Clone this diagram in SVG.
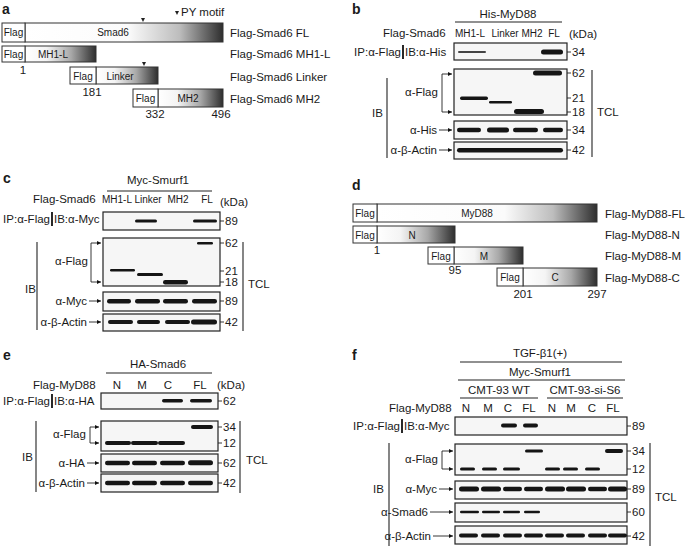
<svg xmlns="http://www.w3.org/2000/svg" width="685" height="546" viewBox="0 0 685 546">
<style>
text{font-family:"Liberation Sans",Arial,sans-serif;fill:#1a1a1a}
.pl{font-size:14px;font-weight:bold}
.lb{font-size:11.5px}
.sm{font-size:10px}
.ln{font-size:10px;text-anchor:middle}
.lnb{font-size:11.5px;text-anchor:middle}
.mid{text-anchor:middle}
.end{text-anchor:end}
.bar{stroke:#333;stroke-width:1}
.flag{fill:#fff}
.box{stroke:#222;stroke-width:1.2;fill:#f6f6f6}
.band{fill:#151515}
.ln1{stroke:#222;stroke-width:1.1;fill:none}
.vb{stroke:#111;stroke-width:1.8}
.arr{stroke:#222;stroke-width:0.9;fill:none;marker-end:url(#ah)}
.tick{stroke:#222;stroke-width:0.9}
</style>
<defs>
<marker id="ah" viewBox="0 0 6 6" refX="6" refY="3" markerUnits="userSpaceOnUse" markerWidth="5" markerHeight="4" orient="auto"><path d="M0,0 L6,3 L0,6 z" fill="#111"/></marker>
<linearGradient id="gFL" x1="0" x2="1" y1="0" y2="0"><stop offset="0" stop-color="#fff"/><stop offset="0.52" stop-color="#fbfbfb"/><stop offset="0.78" stop-color="#bdbdbd"/><stop offset="1" stop-color="#2e2e2e"/></linearGradient>
<linearGradient id="gSh" x1="0" x2="1" y1="0" y2="0"><stop offset="0" stop-color="#fff"/><stop offset="0.3" stop-color="#f4f4f4"/><stop offset="0.65" stop-color="#a8a8a8"/><stop offset="1" stop-color="#2e2e2e"/></linearGradient>
<linearGradient id="gMy" x1="0" x2="1" y1="0" y2="0"><stop offset="0" stop-color="#fff"/><stop offset="0.58" stop-color="#fbfbfb"/><stop offset="0.8" stop-color="#bdbdbd"/><stop offset="1" stop-color="#2e2e2e"/></linearGradient>
</defs>

<!-- Panel a -->
<g id="panel-a">
<text class="pl" x="2" y="14">a</text>
<path d="M175,11 L179,11 L177,15 z" fill="#222"/>
<text class="lb" x="181" y="16">PY motif</text>
<g id="a-FL">
<rect class="bar" x="25" y="23" width="198" height="19" fill="url(#gFL)"/>
<rect class="bar flag" x="2" y="23" width="23" height="19"/>
<text class="sm mid" x="13.5" y="36">Flag</text>
<text class="sm mid" x="113" y="36">Smad6</text>
<path d="M141,18 L145,18 L143,22 z" fill="#222"/>
<text class="lb" x="230" y="37">Flag-Smad6 FL</text>
</g>
<g id="a-MH1L">
<rect class="bar" x="25" y="46" width="71" height="16" fill="url(#gSh)"/>
<rect class="bar flag" x="2" y="46" width="23" height="16"/>
<text class="sm mid" x="13.5" y="58">Flag</text>
<text class="sm mid" x="53" y="58">MH1-L</text>
<text class="lb" x="230" y="58">Flag-Smad6 MH1-L</text>
<text class="lb mid" x="23" y="74">1</text>
</g>
<g id="a-Linker">
<rect class="bar" x="96" y="67" width="62" height="17" fill="url(#gSh)"/>
<rect class="bar flag" x="70" y="67" width="26" height="17"/>
<text class="sm mid" x="83" y="80">Flag</text>
<text class="sm mid" x="120" y="80">Linker</text>
<path d="M142,62 L146,62 L144,66 z" fill="#222"/>
<text class="lb" x="230" y="81">Flag-Smad6 Linker</text>
<text class="lb mid" x="92" y="96">181</text>
</g>
<g id="a-MH2">
<rect class="bar" x="158" y="89" width="65" height="18" fill="url(#gSh)"/>
<rect class="bar flag" x="133" y="89" width="25" height="18"/>
<text class="sm mid" x="145.5" y="102">Flag</text>
<text class="sm mid" x="188" y="102">MH2</text>
<text class="lb" x="230" y="103">Flag-Smad6 MH2</text>
<text class="lb mid" x="155" y="118">332</text>
<text class="lb mid" x="221" y="118">496</text>
</g>
</g>

<!-- Panel b -->
<g id="panel-b">
<text class="pl" x="352" y="14">b</text>
<text class="lb mid" x="508" y="18">His-MyD88</text>
<line class="ln1" x1="455" y1="22" x2="562" y2="22"/>
<text class="lb" x="383" y="37">Flag-Smad6</text>
<text class="ln" x="470" y="37">MH1-L</text>
<text class="ln" x="505" y="37">Linker</text>
<text class="ln" x="532" y="37">MH2</text>
<text class="ln" x="554" y="37">FL</text>
<text class="lb" x="569" y="38">(kDa)</text>
<text class="lb end" x="401" y="56">IP:α-Flag</text>
<line class="vb" x1="403" y1="45" x2="403" y2="59"/>
<text class="lb" x="405" y="56">IB:α-His</text>
<g id="b-ip">
<rect class="box" x="454" y="43" width="113" height="17"/>
<rect x="458" y="51" width="28" height="2" rx="1" fill="#444"/>
<rect class="band" x="541" y="49.5" width="22" height="5" rx="2.5"/>
<line class="tick" x1="567" y1="52" x2="571" y2="52"/><text class="lb" x="572" y="56">34</text>
</g>
<text class="lb" x="372" y="117">IB</text>
<line class="ln1" x1="387" y1="78" x2="387" y2="158"/>
<text class="lb" x="597" y="116">TCL</text>
<line class="ln1" x1="592" y1="70" x2="592" y2="157"/>
<g id="b-flag">
<rect class="box" x="454" y="69" width="113" height="46"/>
<rect class="band" x="533" y="70.5" width="29" height="5" rx="2.5"/>
<rect class="band" x="460" y="96.5" width="28" height="3.5" rx="1.7"/>
<rect class="band" x="489" y="101" width="23" height="2.5" rx="1.2"/>
<rect class="band" x="514" y="109" width="30" height="5" rx="2.5"/>
<line class="tick" x1="567" y1="73" x2="571" y2="73"/><text class="lb" x="572" y="77">62</text>
<line class="tick" x1="567" y1="98" x2="571" y2="98"/><text class="lb" x="572" y="102">21</text>
<line class="tick" x1="567" y1="112" x2="571" y2="112"/><text class="lb" x="572" y="116">18</text>
<text class="lb" x="405" y="96">α-Flag</text>
</g>
<g id="b-his">
<rect class="box" x="454" y="121" width="113" height="18"/>
<rect class="band" x="457" y="127.8" width="24" height="4.5" rx="2.2"/>
<rect class="band" x="487" y="127.5" width="22" height="5" rx="2.5"/>
<rect class="band" x="513" y="127.8" width="25" height="4.5" rx="2.2"/>
<rect class="band" x="543" y="127.8" width="20" height="4.5" rx="2.2"/>
<line class="tick" x1="567" y1="130" x2="571" y2="130"/><text class="lb" x="572" y="134">34</text>
<text class="lb end" x="437" y="134">α-His</text>
</g>
<g id="b-actin">
<rect class="box" x="454" y="142" width="113" height="17"/>
<rect class="band" x="457" y="148" width="106" height="4.5" rx="2.2"/>
<line class="tick" x1="567" y1="150" x2="571" y2="150"/><text class="lb" x="572" y="154">42</text>
<text class="lb end" x="437" y="154">α-β-Actin</text>
</g>
</g>

<!-- Panel c -->
<g id="panel-c">
<text class="pl" x="3" y="183">c</text>
<text class="lb mid" x="158" y="184">Myc-Smurf1</text>
<line class="ln1" x1="107" y1="191" x2="212" y2="191"/>
<text class="lb" x="33" y="203">Flag-Smad6</text>
<text class="ln" x="117" y="203">MH1-L</text>
<text class="ln" x="148" y="203">Linker</text>
<text class="ln" x="178" y="203">MH2</text>
<text class="ln" x="207" y="203">FL</text>
<text class="lb" x="220" y="206">(kDa)</text>
<text class="lb end" x="50" y="223">IP:α-Flag</text>
<line class="vb" x1="52" y1="212" x2="52" y2="226"/>
<text class="lb" x="54" y="223">IB:α-Myc</text>
<g id="c-ip">
<rect class="box" x="103" y="212" width="117" height="18"/>
<rect class="band" x="135" y="219.5" width="22" height="3" rx="1.5"/>
<rect class="band" x="193" y="219.5" width="24" height="3" rx="1.5"/>
<line class="tick" x1="220" y1="221" x2="224" y2="221"/><text class="lb" x="225" y="225">89</text>
</g>
<text class="lb" x="25" y="293">IB</text>
<line class="ln1" x1="37" y1="242" x2="37" y2="330"/>
<text class="lb" x="248" y="288">TCL</text>
<line class="ln1" x1="243" y1="242" x2="243" y2="331"/>
<g id="c-flag">
<rect class="box" x="103" y="238" width="117" height="48"/>
<rect class="band" x="197" y="242" width="16" height="2.5" rx="1.2"/>
<rect class="band" x="110" y="269" width="25" height="2.5" rx="1.2"/>
<rect class="band" x="137" y="273" width="26" height="3" rx="1.5"/>
<rect class="band" x="163" y="280" width="25" height="4.5" rx="2.2"/>
<line class="tick" x1="220" y1="243" x2="224" y2="243"/><text class="lb" x="225" y="247">62</text>
<line class="tick" x1="220" y1="271" x2="224" y2="271"/><text class="lb" x="225" y="275">21</text>
<line class="tick" x1="220" y1="282" x2="224" y2="282"/><text class="lb" x="225" y="286">18</text>
<text class="lb" x="55" y="265">α-Flag</text>
</g>
<g id="c-myc">
<rect class="box" x="103" y="292" width="117" height="19"/>
<rect class="band" x="107" y="299" width="24" height="4.5" rx="2.2"/>
<rect class="band" x="135" y="299" width="25" height="4.5" rx="2.2"/>
<rect class="band" x="163" y="299" width="25" height="4.5" rx="2.2"/>
<rect class="band" x="192" y="299" width="25" height="4.5" rx="2.2"/>
<line class="tick" x1="220" y1="301" x2="224" y2="301"/><text class="lb" x="225" y="305">89</text>
<text class="lb end" x="87" y="305">α-Myc</text>
</g>
<g id="c-actin">
<rect class="box" x="103" y="314" width="117" height="17"/>
<rect class="band" x="108" y="320" width="25" height="4" rx="2"/>
<rect class="band" x="137" y="320" width="23" height="4" rx="2"/>
<rect class="band" x="165" y="320" width="25" height="4" rx="2"/>
<rect class="band" x="191" y="319.5" width="26" height="5" rx="2.5"/>
<line class="tick" x1="220" y1="322" x2="224" y2="322"/><text class="lb" x="225" y="326">42</text>
<text class="lb end" x="87" y="326">α-β-Actin</text>
</g>
</g>

<!-- Panel d -->
<g id="panel-d">
<text class="pl" x="352" y="190">d</text>
<g id="d-FL">
<rect class="bar" x="377" y="204" width="220" height="18" fill="url(#gMy)"/>
<rect class="bar flag" x="353" y="204" width="24" height="18"/>
<text class="sm mid" x="365" y="217">Flag</text>
<text class="sm mid" x="477" y="217">MyD88</text>
<text class="lb" x="605" y="218">Flag-MyD88-FL</text>
</g>
<g id="d-N">
<rect class="bar" x="377" y="226" width="78" height="17" fill="url(#gSh)"/>
<rect class="bar flag" x="353" y="226" width="24" height="17"/>
<text class="sm mid" x="365" y="239">Flag</text>
<text class="sm mid" x="412" y="239">N</text>
<text class="lb" x="605" y="239">Flag-MyD88-N</text>
<text class="lb mid" x="377" y="254">1</text>
</g>
<g id="d-M">
<rect class="bar" x="454" y="247" width="69" height="17" fill="url(#gSh)"/>
<rect class="bar flag" x="428" y="247" width="26" height="17"/>
<text class="sm mid" x="441" y="260">Flag</text>
<text class="sm mid" x="484" y="260">M</text>
<text class="lb" x="605" y="260">Flag-MyD88-M</text>
<text class="lb mid" x="455" y="274">95</text>
</g>
<g id="d-C">
<rect class="bar" x="523" y="268" width="74" height="18" fill="url(#gSh)"/>
<rect class="bar flag" x="497" y="268" width="26" height="18"/>
<text class="sm mid" x="510" y="281">Flag</text>
<text class="sm mid" x="555" y="281">C</text>
<text class="lb" x="605" y="282">Flag-MyD88-C</text>
<text class="lb mid" x="523" y="298">201</text>
<text class="lb mid" x="597" y="298">297</text>
</g>
</g>

<!-- Panel e -->
<g id="panel-e">
<text class="pl" x="3" y="360">e</text>
<text class="lb mid" x="158" y="368">HA-Smad6</text>
<line class="ln1" x1="106" y1="373" x2="212" y2="373"/>
<text class="lb" x="33" y="389">Flag-MyD88</text>
<text class="lnb" x="117" y="389">N</text>
<text class="lnb" x="142" y="389">M</text>
<text class="lnb" x="168" y="389">C</text>
<text class="lnb" x="200" y="389">FL</text>
<text class="lb" x="217" y="389">(kDa)</text>
<text class="lb end" x="50" y="405">IP:α-Flag</text>
<line class="vb" x1="52" y1="394" x2="52" y2="408"/>
<text class="lb" x="54" y="405">IB:α-HA</text>
<g id="e-ip">
<rect class="box" x="101" y="393" width="117" height="16"/>
<rect class="band" x="162" y="399" width="21" height="3.5" rx="1.7"/>
<rect class="band" x="190" y="399" width="22" height="3.5" rx="1.7"/>
<line class="tick" x1="218" y1="401" x2="222" y2="401"/><text class="lb" x="223" y="405">62</text>
</g>
<text class="lb" x="22" y="461">IB</text>
<line class="ln1" x1="36" y1="421" x2="36" y2="492"/>
<text class="lb" x="246" y="464">TCL</text>
<line class="ln1" x1="240" y1="421" x2="240" y2="493"/>
<g id="e-flag">
<rect class="box" x="101" y="421" width="117" height="30"/>
<rect class="band" x="191" y="425" width="22" height="4" rx="2"/>
<rect class="band" x="105" y="441" width="26" height="4" rx="2"/>
<rect class="band" x="131" y="441" width="27" height="4" rx="2"/>
<rect class="band" x="158" y="441" width="27" height="4" rx="2"/>
<line class="tick" x1="218" y1="427" x2="222" y2="427"/><text class="lb" x="223" y="431">34</text>
<line class="tick" x1="218" y1="443" x2="222" y2="443"/><text class="lb" x="223" y="447">12</text>
<text class="lb" x="53" y="438">α-Flag</text>
</g>
<g id="e-ha">
<rect class="box" x="101" y="454" width="117" height="18"/>
<rect class="band" x="105" y="460.8" width="25" height="4.5" rx="2.2"/>
<rect class="band" x="132" y="460.8" width="25" height="4.5" rx="2.2"/>
<rect class="band" x="160" y="460.8" width="25" height="4.5" rx="2.2"/>
<rect class="band" x="188" y="460.3" width="25" height="5" rx="2.5"/>
<line class="tick" x1="218" y1="463" x2="222" y2="463"/><text class="lb" x="223" y="467">62</text>
<text class="lb end" x="85" y="467">α-HA</text>
</g>
<g id="e-actin">
<rect class="box" x="101" y="474" width="117" height="18"/>
<rect class="band" x="105" y="480.8" width="25" height="4.5" rx="2.2"/>
<rect class="band" x="132" y="480.8" width="25" height="4.5" rx="2.2"/>
<rect class="band" x="160" y="480.8" width="25" height="4.5" rx="2.2"/>
<rect class="band" x="188" y="480.8" width="25" height="4.5" rx="2.2"/>
<line class="tick" x1="218" y1="483" x2="222" y2="483"/><text class="lb" x="223" y="487">42</text>
<text class="lb end" x="85" y="487">α-β-Actin</text>
</g>
</g>

<!-- Panel f -->
<g id="panel-f">
<text class="pl" x="352" y="360">f</text>
<text class="lb mid" x="540" y="357">TGF-β1(+)</text>
<line class="ln1" x1="460" y1="362" x2="622" y2="362"/>
<text class="lb mid" x="540" y="376">Myc-Smurf1</text>
<line class="ln1" x1="458" y1="380" x2="625" y2="380"/>
<text class="lb mid" x="499" y="394">CMT-93 WT</text>
<line class="ln1" x1="460" y1="398" x2="538" y2="398"/>
<text class="lb mid" x="585" y="394">CMT-93-si-S6</text>
<line class="ln1" x1="547" y1="398" x2="623" y2="398"/>
<text class="lb" x="389" y="412">Flag-MyD88</text>
<text class="lnb" x="466" y="412">N</text>
<text class="lnb" x="488" y="412">M</text>
<text class="lnb" x="508" y="412">C</text>
<text class="lnb" x="529" y="412">FL</text>
<text class="lnb" x="552" y="412">N</text>
<text class="lnb" x="571" y="412">M</text>
<text class="lnb" x="592" y="412">C</text>
<text class="lnb" x="613" y="412">FL</text>
<text class="lb end" x="400" y="430">IP:α-Flag</text>
<line class="vb" x1="402" y1="419" x2="402" y2="433"/>
<text class="lb" x="404" y="430">IB:α-Myc</text>
<g id="f-ip">
<rect class="box" x="455" y="417" width="172" height="18"/>
<rect class="band" x="501" y="423.5" width="16" height="4" rx="2"/>
<rect class="band" x="523" y="423.5" width="15" height="4" rx="2"/>
<line class="tick" x1="627" y1="426" x2="631" y2="426"/><text class="lb" x="632" y="430">89</text>
</g>
<text class="lb" x="373" y="493">IB</text>
<line class="ln1" x1="389" y1="443" x2="389" y2="546"/>
<text class="lb" x="655" y="501">TCL</text>
<line class="ln1" x1="650" y1="443" x2="650" y2="546"/>
<g id="f-flag">
<rect class="box" x="455" y="444" width="172" height="31"/>
<rect class="band" x="525" y="449.5" width="18" height="3" rx="1.5"/>
<rect class="band" x="605" y="449" width="18" height="4" rx="2"/>
<rect class="band" x="460" y="467.5" width="15" height="3" rx="1.5"/>
<rect class="band" x="482" y="467.5" width="15" height="3" rx="1.5"/>
<rect class="band" x="503" y="467.5" width="17" height="3" rx="1.5"/>
<rect class="band" x="545" y="467.5" width="15" height="3" rx="1.5"/>
<rect class="band" x="563" y="467.5" width="15" height="3" rx="1.5"/>
<rect class="band" x="585" y="467.5" width="15" height="3" rx="1.5"/>
<line class="tick" x1="627" y1="451" x2="631" y2="451"/><text class="lb" x="632" y="455">34</text>
<line class="tick" x1="627" y1="469" x2="631" y2="469"/><text class="lb" x="632" y="473">12</text>
<text class="lb" x="405" y="463">α-Flag</text>
</g>
<g id="f-myc">
<rect class="box" x="455" y="481" width="172" height="18"/>
<rect class="band" x="459" y="486.5" width="20" height="5" rx="2.5"/>
<rect class="band" x="481" y="486.5" width="20" height="5" rx="2.5"/>
<rect class="band" x="503" y="486.8" width="19" height="4.5" rx="2.2"/>
<rect class="band" x="524" y="486.8" width="19" height="4.5" rx="2.2"/>
<rect class="band" x="545" y="486.5" width="20" height="5" rx="2.5"/>
<rect class="band" x="566" y="486.5" width="20" height="5" rx="2.5"/>
<rect class="band" x="588" y="486.8" width="19" height="4.5" rx="2.2"/>
<rect class="band" x="608" y="486.5" width="19" height="5" rx="2.5"/>
<line class="tick" x1="627" y1="489" x2="631" y2="489"/><text class="lb" x="632" y="493">89</text>
<text class="lb end" x="437" y="493">α-Myc</text>
</g>
<g id="f-smad6">
<rect class="box" x="455" y="503" width="172" height="19"/>
<rect class="band" x="460" y="510.8" width="19" height="2.4" rx="1.2"/>
<rect class="band" x="482" y="510.8" width="18" height="2.4" rx="1.2"/>
<rect class="band" x="503" y="510.8" width="17" height="2.4" rx="1.2"/>
<rect class="band" x="524" y="510.8" width="16" height="2.4" rx="1.2"/>
<line class="tick" x1="627" y1="512" x2="631" y2="512"/><text class="lb" x="632" y="516">60</text>
<text class="lb end" x="428" y="516">α-Smad6</text>
</g>
<g id="f-actin">
<rect class="box" x="455" y="526" width="172" height="18"/>
<rect class="band" x="459" y="533.5" width="19" height="4" rx="2"/>
<rect class="band" x="481" y="533.5" width="19" height="4" rx="2"/>
<rect class="band" x="503" y="533.5" width="19" height="4" rx="2"/>
<rect class="band" x="524" y="533.5" width="19" height="4" rx="2"/>
<rect class="band" x="545" y="533.5" width="19" height="4" rx="2"/>
<rect class="band" x="566" y="533.5" width="19" height="4" rx="2"/>
<rect class="band" x="588" y="533.5" width="19" height="4" rx="2"/>
<rect class="band" x="608" y="533.5" width="19" height="4" rx="2"/>
<line class="tick" x1="627" y1="536" x2="631" y2="536"/><text class="lb" x="632" y="540">42</text>
<text class="lb end" x="431" y="540">α-β-Actin</text>
</g>
</g>

<!-- Connectors -->
<g id="connectors">
<path class="arr" d="M442,74 L442,112 L452,112"/>
<path class="arr" d="M442,74 L452,74"/>
<path class="arr" d="M439,130 L452,130"/>
<path class="arr" d="M439,150 L452,150"/>
<path class="arr" d="M91,243 L91,282 L101,282"/>
<path class="arr" d="M91,243 L101,243"/>
<path class="arr" d="M89,301 L101,301"/>
<path class="arr" d="M89,322 L101,322"/>
<path class="arr" d="M90,427 L90,443 L99,443"/>
<path class="arr" d="M90,427 L99,427"/>
<path class="arr" d="M87,463 L99,463"/>
<path class="arr" d="M87,483 L99,483"/>
<path class="arr" d="M442,451 L442,469 L453,469"/>
<path class="arr" d="M442,451 L453,451"/>
<path class="arr" d="M439,489 L453,489"/>
<path class="arr" d="M430,512 L453,512"/>
<path class="arr" d="M433,536 L453,536"/>
</g>
</svg>
